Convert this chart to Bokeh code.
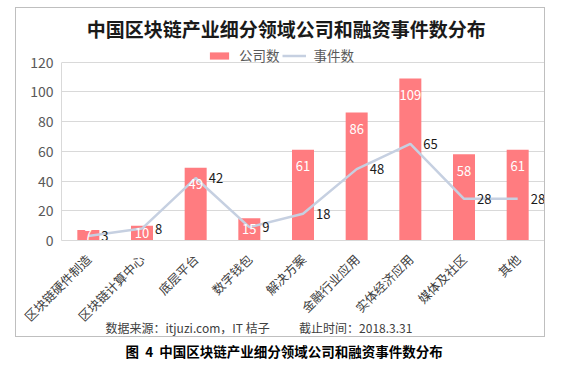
from bokeh.plotting import figure
from bokeh.models import (ColumnDataSource, Range1d, FactorRange, Legend, LegendItem,
                          Title, FixedTicker, Spacer, Label)
from bokeh.layouts import column, row
from bokeh.core.properties import value
from bokeh.embed import file_html
from bokeh.resources import INLINE
import math

categories = ["区块链硬件制造", "区块链计算中心", "底层平台", "数字钱包", "解决方案",
              "金融行业应用", "实体经济应用", "媒体及社区", "其他"]
companies = [7, 10, 49, 15, 61, 86, 109, 58, 61]
events = [3, 8, 42, 9, 18, 48, 65, 28, 28]
y_ticks = [0, 20, 40, 60, 80, 100, 120]

TITLE = "中国区块链产业细分领域公司和融资事件数分布"
SOURCE = "数据来源：itjuzi.com，IT 桔子\u3000\u3000\u00a0\u00a0截止时间：2018.3.31"
CAPTION = "图\u00a0\u00a04\u00a0\u00a0中国区块链产业细分领域公司和融资事件数分布"

FONT = "Noto Sans CJK SC"
W, H = 530, 330

bar_label_y = [max(v - 11, v / 2) for v in companies]
src = ColumnDataSource(dict(cat=categories, comp=companies, ev=events,
                            comp_txt=[str(v) for v in companies],
                            ev_txt=[str(v) for v in events],
                            bly=bar_label_y))

# the frame reaches to the top of the box so that title and legend sit inside it
p = figure(width=W, height=H, x_range=FactorRange(*categories, range_padding=0),
           y_range=Range1d(0, 156), output_backend="svg", toolbar_location=None,
           min_border_left=45, min_border_right=2, min_border_top=0, min_border_bottom=98,
           title=None)
p.styles = {"border": "1px solid #bfbfbf"}
p.outline_line_color = None
p.background_fill_color = "white"
p.border_fill_color = "white"

bars = p.vbar(x="cat", top="comp", width=0.41, source=src, fill_color="#ff7c80", line_color=None)
line = p.line(x="cat", y="ev", source=src, line_color="#c6d0e1", line_width=2.5)

p.text(x="cat", y="bly", text="comp_txt", source=src, text_color="white",
       text_font=value(FONT), text_font_size="13px", text_align="center", text_baseline="middle")
p.text(x="cat", y="ev", text="ev_txt", source=src, text_color="#1a1a1a", x_offset=13,
       text_font=value(FONT), text_font_size="13px", text_align="left", text_baseline="middle")

ticker = FixedTicker(ticks=y_ticks)
p.yaxis.ticker = ticker
p.ygrid.ticker = ticker
p.yaxis.bounds = (min(y_ticks), max(y_ticks))
p.yaxis.axis_line_color = "#d9d9d9"
p.yaxis.major_tick_line_color = None
p.yaxis.minor_tick_line_color = None
p.yaxis.major_tick_out = 0
p.yaxis.minor_tick_out = 0
p.yaxis.major_label_text_font = FONT
p.yaxis.major_label_text_font_size = "14px"
p.yaxis.major_label_text_color = "#595959"
p.yaxis.major_label_standoff = 8

p.xaxis.axis_line_color = "#d9d9d9"
p.xaxis.major_tick_line_color = None
p.xaxis.minor_tick_line_color = None
p.xaxis.major_label_orientation = math.pi / 4
p.xaxis.major_label_text_font = FONT
p.xaxis.major_label_text_font_size = "12.5px"
p.xaxis.major_label_text_color = "#404040"
p.xaxis.major_label_standoff = 10

p.xgrid.grid_line_color = None
p.ygrid.grid_line_color = "#d9d9d9"

legend = Legend(items=[LegendItem(label="公司数", renderers=[bars]),
                       LegendItem(label="事件数", renderers=[line])],
                orientation="horizontal", location=(146, 175),
                glyph_width=24, glyph_height=9, label_standoff=8, spacing=2,
                padding=0, margin=0, border_line_color=None, background_fill_alpha=0,
                label_text_font=FONT, label_text_font_size="13.5px", label_text_color="#595959")
p.add_layout(legend, "center")

p.add_layout(Label(x=4.19, y=142.3, text=TITLE, text_align="center", text_baseline="middle",
                   text_font=FONT, text_font_size="19px", text_font_style="bold",
                   text_color="#1a1a1a"))
p.add_layout(Title(text=SOURCE, align="left", offset=44, standoff=-31, vertical_align="top",
                   text_font=FONT, text_font_size="12px", text_font_style="normal",
                   text_color="#404040"), "below")

# caption below the box
cap = figure(width=553, height=28, x_range=Range1d(0, 553), y_range=Range1d(0, 28),
             output_backend="svg", toolbar_location=None,
             min_border_left=0, min_border_right=0, min_border_top=0, min_border_bottom=0)
cap.axis.visible = False
cap.grid.visible = False
cap.outline_line_color = None
cap.text(x=[125], y=[15], text=[CAPTION], text_font=value(FONT), text_font_size="13.5px",
         text_font_style="bold", text_color="#000000", text_align="left", text_baseline="middle")

layout = column(Spacer(height=7), row(Spacer(width=15), p, spacing=0), cap, spacing=0)
open("out.html", "w").write(file_html(layout, INLINE))
